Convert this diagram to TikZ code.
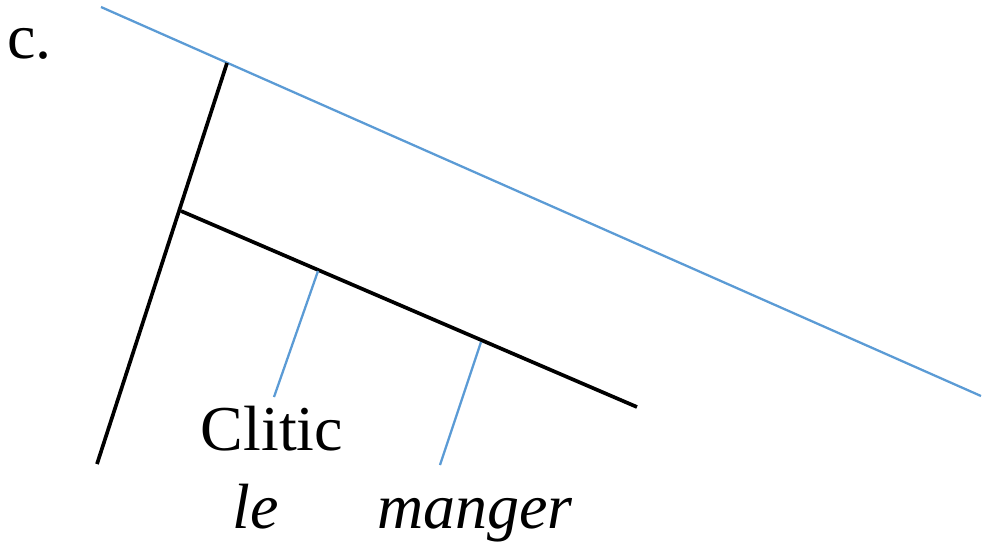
\documentclass[tikz,border=0pt]{standalone}
\usepackage{fontspec}
\setmainfont{Liberation Serif}
\usepackage{xcolor}
\usetikzlibrary{positioning}
\definecolor{lineblue}{HTML}{5B9BD5}

\begin{document}
\begin{tikzpicture}[x=0.02cm,y=-0.02cm,br/.style={draw=black,line width=2.1pt},lk/.style={draw=lineblue,line width=1.3pt},w/.style={inner sep=0pt,anchor=base,font=\fontsize{36.4}{40}\selectfont}]
\useasboundingbox (0,0) rectangle (982,549);
\node[w,anchor=base west] (lab) at (7,58) {c.};
\coordinate (s) at (101,7);\coordinate (se) at (981,396);
\coordinate (t) at (227,63);\coordinate (r) at (97,464);
\coordinate (j) at (181,211);\coordinate (v) at (637,407);
\coordinate (c1) at (318,271);\coordinate (c1e) at (274,397);
\coordinate (c2) at (481,342);\coordinate (c2e) at (440,465);
\draw[lk] (s)--(se);
\draw[br] (t)--(r);\draw[br] (j)--(v);
\draw[lk] (c1)--(c1e);\draw[lk] (c2)--(c2e);
\node[w] (cl) at (272,450) {Clitic};
\node[w] (le) at (256,528) {\itshape le};
\node[w] (mg) at (475,528) {\itshape manger};
\end{tikzpicture}
\end{document}
